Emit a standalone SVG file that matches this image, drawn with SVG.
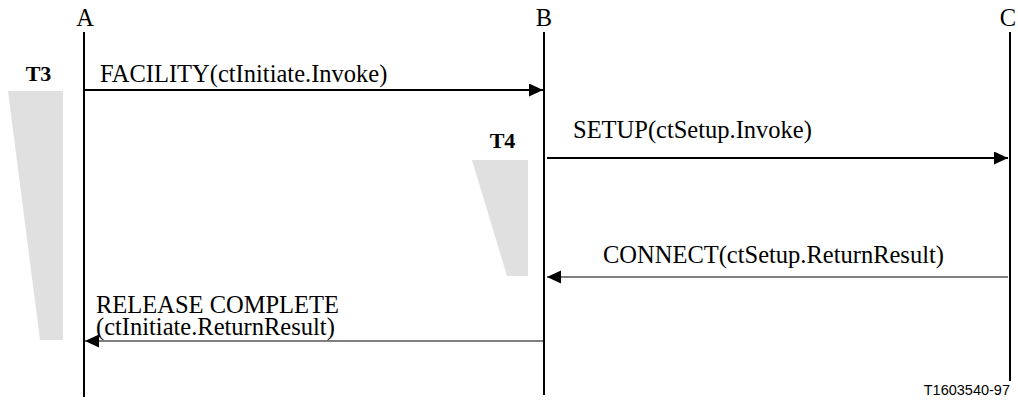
<svg xmlns="http://www.w3.org/2000/svg" width="1018" height="400" viewBox="0 0 1018 400">
<style>
.lbl{font-family:"Liberation Serif","Times New Roman",serif;font-size:24.5px;fill:#000}
.tm{font-family:"Liberation Serif","Times New Roman",serif;font-size:22px;font-weight:bold;fill:#000}
.life{stroke:#000;stroke-width:2;fill:none}
.msg{stroke:#000;stroke-width:2;fill:none}
.msgt{stroke:#000;stroke-width:1.2;fill:none}
.tim{fill:#e0e0e0}
</style>
<defs>
<marker id="ah" markerUnits="userSpaceOnUse" markerWidth="15" markerHeight="14" refX="14" refY="6.5" orient="auto">
<path d="M0,0 L14,6.5 L0,13 Z" fill="#000"/>
</marker>
</defs>
<g id="timers">
<polygon class="tim" points="8,91 63,91 63,340 40,340"/>
<polygon class="tim" points="472,160 528,160 528,276 507,276"/>
</g>
<g id="A">
<text class="lbl" x="85" y="26" text-anchor="middle">A</text>
<line class="life" x1="84" y1="32" x2="84" y2="397"/>
</g>
<g id="B">
<text class="lbl" x="544" y="26" text-anchor="middle">B</text>
<line class="life" x1="544" y1="32" x2="544" y2="395"/>
</g>
<g id="C">
<text class="lbl" x="1008" y="26" text-anchor="middle">C</text>
<line class="life" x1="1010" y1="32" x2="1010" y2="381"/>
</g>
<g id="T3"><text class="tm" x="38.5" y="81" text-anchor="middle">T3</text></g>
<g id="T4"><text class="tm" x="502.5" y="148" text-anchor="middle">T4</text></g>
<g id="connectors">
<line class="msg" x1="84" y1="90" x2="543" y2="90" marker-end="url(#ah)"/>
<line class="msg" x1="547" y1="158" x2="1008" y2="158" marker-end="url(#ah)"/>
<line class="msgt" x1="1008" y1="277" x2="547" y2="277" marker-end="url(#ah)"/>
<line class="msgt" x1="544" y1="341" x2="85" y2="341" marker-end="url(#ah)"/>
</g>
<g id="labels">
<text class="lbl" x="100" y="82">FACILITY(ctInitiate.Invoke)</text>
<text class="lbl" x="573" y="138">SETUP(ctSetup.Invoke)</text>
<text class="lbl" x="603" y="263">CONNECT(ctSetup.ReturnResult)</text>
<text class="lbl" x="96" y="313">RELEASE COMPLETE<tspan x="96" y="335">(ctInitiate.ReturnResult)</tspan></text>
<text x="1010" y="395" text-anchor="end" font-family="Liberation Sans, Arial, sans-serif" font-size="14.5">T1603540-97</text>
</g>
</svg>
